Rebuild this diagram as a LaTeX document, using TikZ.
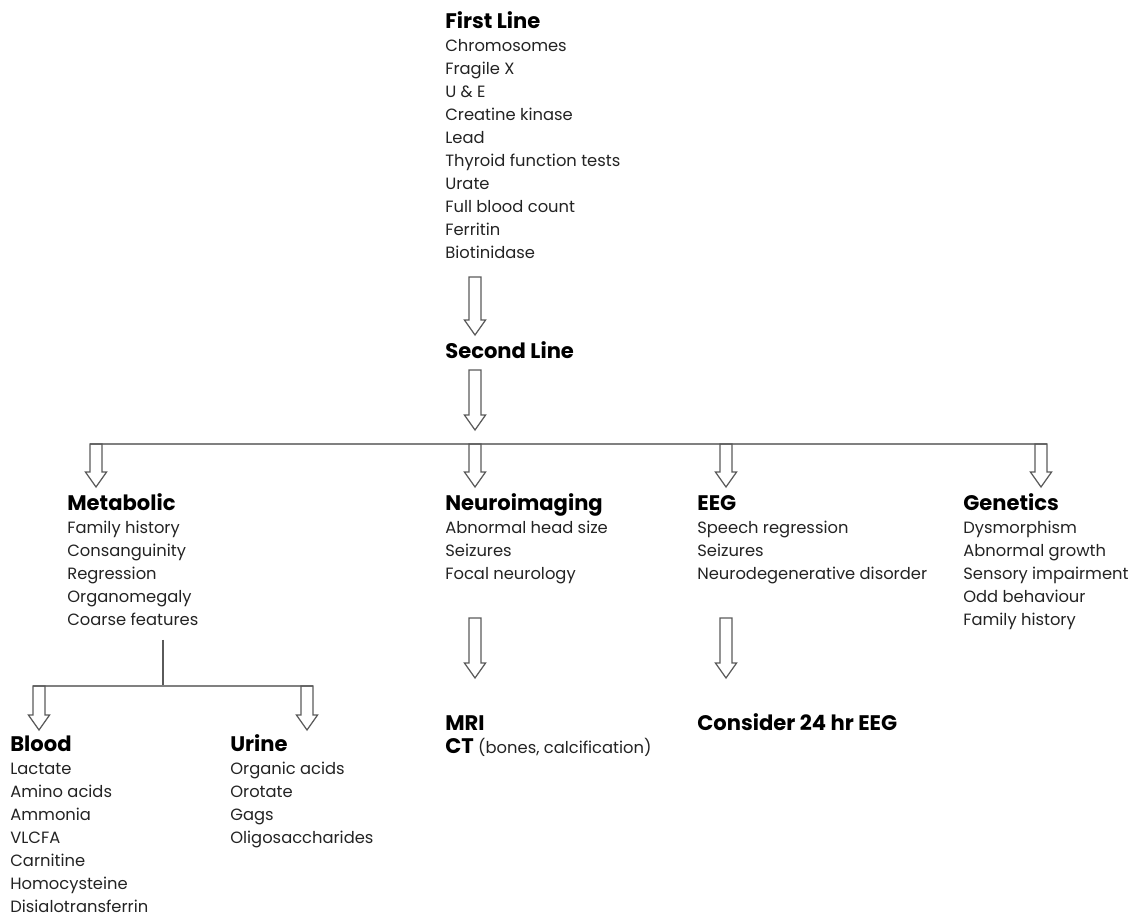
\documentclass[tikz,border=0pt]{standalone}
\usepackage{fontspec}
\setmainfont{Poppins}
\usetikzlibrary{calc}

\definecolor{busgray}{RGB}{128,128,128}
\definecolor{arrowgray}{RGB}{90,90,90}
\definecolor{textgray}{RGB}{35,35,35}

\newcommand{\hd}[1]{{\fontsize{12}{13}\selectfont\bfseries\color{black}\vphantom{Aldfi}#1}}

\tikzset{
  block/.style={anchor=north west, align=left, inner sep=0pt, text=textgray,
    font=\fontsize{9.3}{13.1}\selectfont},
  bus/.style={draw=busgray, line width=1.1pt},
  stem/.style={draw=arrowgray, line width=0.6pt},
  hollow/.style={draw=arrowgray, line width=0.7pt, line join=miter,
    to path={let \p1=(\tikztostart), \p2=(\tikztotarget) in
      (\x1-3.4pt,\y1) -- (\x1+3.4pt,\y1) -- (\x1+3.4pt,\y2+8.5pt)
      -- (\x1+6pt,\y2+8.5pt) -- (\x1,\y2) -- (\x1-6pt,\y2+8.5pt)
      -- (\x1-3.4pt,\y2+8.5pt) -- cycle}}
}

\begin{document}
\begin{tikzpicture}[x=0.02cm, y=-0.02cm]
    \useasboundingbox (0,0) rectangle (1137,918);

    % First and second line
    \node[block] (first) at (445,11) {\hd{First Line}\\Chromosomes\\Fragile X\\U \& E\\Creatine kinase\\Lead\\Thyroid function tests\\Urate\\Full blood count\\Ferritin\\Biotinidase};
    \node[block] (second) at (445,341) {\hd{Second Line}};

    \coordinate (a1top) at (475,277);
    \coordinate (a1tip) at (475,335);
    \draw[hollow] (a1top) to (a1tip);

    \coordinate (a2top) at (475,370);
    \coordinate (a2tip) at (475,430);
    \draw[hollow] (a2top) to (a2tip);

    % Main bus
    \coordinate (busw) at (90,444);
    \coordinate (buse) at (1047,444);
    \draw[bus] (busw) -- (buse);

    % Four branches
    \node[block] (metabolic) at (67,493) {\hd{Metabolic}\\Family history\\Consanguinity\\Regression\\Organomegaly\\Coarse features};
    \node[block] (neuro) at (445,493) {\hd{Neuroimaging}\\Abnormal head size\\Seizures\\Focal neurology};
    \node[block] (eeg) at (697,493) {\hd{EEG}\\Speech regression\\Seizures\\Neurodegenerative disorder};
    \node[block] (genetics) at (963,493) {\hd{Genetics}\\Dysmorphism\\Abnormal growth\\Sensory impairment\\Odd behaviour\\Family history};

    \foreach \xx/\nm in {96/met, 475/neu, 726/eeg, 1041/gen} {
        \coordinate (\nm top) at (\xx,444);
        \coordinate (\nm tip) at (\xx,487);
        \draw[hollow] (\nm top) to (\nm tip);
    }

    % Neuroimaging and EEG follow-up
    \node[block] (mri) at (445,713) {\hd{MRI}\\\hd{CT} (bones, calcification)};
    \node[block] (consider) at (697,713) {\hd{Consider 24 hr EEG}};

    \foreach \xx/\nm in {475/mri, 726/con} {
        \coordinate (\nm top) at (\xx,618);
        \coordinate (\nm tip) at (\xx,678);
        \draw[hollow] (\nm top) to (\nm tip);
    }

    % Metabolic split
    \coordinate (mstem) at (163,640);
    \coordinate (mjoin) at (163,686);
    \coordinate (subw) at (33,686);
    \coordinate (sube) at (313,686);
    \draw[stem] (mstem) -- (mjoin);
    \draw[bus] (subw) -- (sube);

    \node[block] (blood) at (10,734) {\hd{Blood}\\Lactate\\Amino acids\\Ammonia\\VLCFA\\Carnitine\\Homocysteine\\Disialotransferrin};
    \node[block] (urine) at (230,734) {\hd{Urine}\\Organic acids\\Orotate\\Gags\\Oligosaccharides};

    \foreach \xx/\nm in {39/blo, 307/uri} {
        \coordinate (\nm top) at (\xx,686);
        \coordinate (\nm tip) at (\xx,730);
        \draw[hollow] (\nm top) to (\nm tip);
    }
\end{tikzpicture}
\end{document}
